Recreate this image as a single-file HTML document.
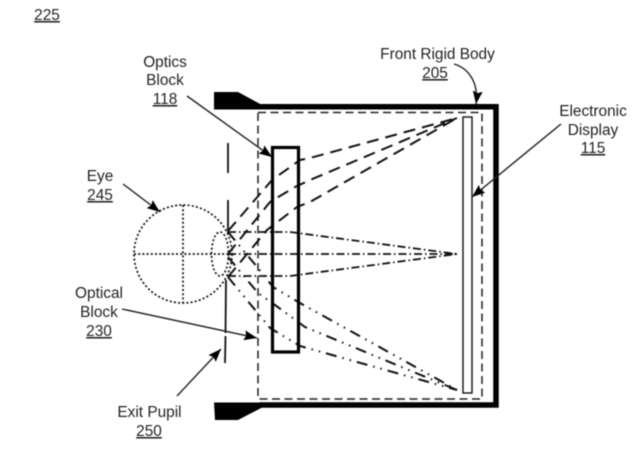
<!DOCTYPE html>
<html>
<head>
<meta charset="utf-8">
<style>
html,body{margin:0;padding:0;background:#fff;width:637px;height:459px;overflow:hidden}
svg{display:block}
text{font-family:"Liberation Sans",sans-serif;font-size:15.4px;fill:#222;text-anchor:middle}
.u{text-decoration:underline}
.ray{fill:none;stroke:#111;stroke-width:2}
.d{stroke-dasharray:12 7}
.dd1{stroke-dasharray:8 3 1.5 3;stroke-width:1.8}
.dd2{stroke-dasharray:11 6 1.5 6 1.5 6}
.dot{fill:none;stroke:#111;stroke-width:1.7;stroke-dasharray:2 2.2}
.a{stroke:#222;stroke-width:1.4;fill:none}
</style>
</head>
<body>
<svg width="637" height="459" viewBox="0 0 637 459" xmlns="http://www.w3.org/2000/svg">
<defs>
<marker id="h" viewBox="0 0 13 10" refX="13" refY="5" markerWidth="13" markerHeight="10" markerUnits="userSpaceOnUse" orient="auto"><path d="M0 0L13 5L0 10L2 5Z" fill="#000"/></marker>
</defs>
<g style="filter:blur(.4px)">
<!-- body -->
<path d="M214 92H238L262 105V109.500H214Z" fill="#000"/>
<path d="M214 402.500H263V407L238 420H215Z" fill="#000"/>
<path d="M260 106.800H496V405H260" fill="none" stroke="#000" stroke-width="5.500"/>
<!-- dashed box -->
<rect x="258" y="112.500" width="224" height="286.500" fill="none" stroke="#222" stroke-width="1.500" stroke-dasharray="8 4.500"/>
<!-- display -->
<rect x="463" y="117" width="9" height="276" fill="#fff" stroke="#111" stroke-width="1.400"/>
<!-- rays -->
<g class="ray d">
<path d="M228 231L272 180L300 160L310 158L457 118"/>
<path d="M228 254L270 202L295 187L310 180L457 118"/>
<path d="M228 277L267 230L297 207L310 202L457 118"/>
</g>
<g class="ray dd1">
<path d="M228 232H290L457 254"/>
<path d="M228 254H457"/>
<path d="M228 276H290L457 254"/>
</g>
<g class="ray dd2">
<path d="M228 232L258 268L273 287L300 303L457 390"/>
<path d="M228 257L258 293L275 305L305 327L457 390"/>
<path d="M228 277L270 328L300 346L457 390"/>
</g>
<!-- optics block -->
<rect x="272.500" y="147.500" width="26" height="204.500" fill="none" stroke="#000" stroke-width="3.200"/>
<!-- exit pupil -->
<path d="M228 143V173M228 200V233M226 280L225.500 333M225.500 336L225 363" fill="none" stroke="#111" stroke-width="1.800"/>
<!-- eye -->
<circle cx="183" cy="254" r="49" class="dot"/>
<ellipse cx="220" cy="254" rx="8.500" ry="22" class="dot"/>
<path d="M134 254H232M183 205V303" class="dot"/>
<!-- leader arrows -->
<g class="a">
<path d="M187 96L272 157" marker-end="url(#h)"/>
<path d="M123 184L160 212" marker-end="url(#h)"/>
<path d="M122 309L257 338" marker-end="url(#h)"/>
<path d="M177 396L221 349" marker-end="url(#h)"/>
<path d="M454 64C468 68 479 82 476 104" marker-end="url(#h)"/>
<path d="M561 124L472 197" marker-end="url(#h)"/>
</g>
<!-- labels -->
<text x="47" y="20" class="u">225</text>
<text x="165" y="67">Optics</text>
<text x="165" y="85">Block</text>
<text x="165" y="104" class="u">118</text>
<text x="437.500" y="59">Front Rigid Body</text>
<text x="435" y="78" class="u">205</text>
<text x="593" y="116">Electronic</text>
<text x="593" y="135">Display</text>
<text x="593" y="153" class="u">115</text>
<text x="100" y="181">Eye</text>
<text x="100" y="200" class="u">245</text>
<text x="99" y="298">Optical</text>
<text x="99" y="317">Block</text>
<text x="99" y="336" class="u">230</text>
<text x="149.500" y="417">Exit Pupil</text>
<text x="149" y="436" class="u">250</text>
</g>
</svg>
</body>
</html>
